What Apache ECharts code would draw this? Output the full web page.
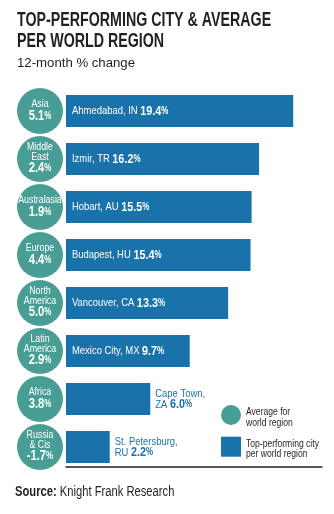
<!DOCTYPE html>
<html>
<head>
<meta charset="utf-8">
<script src="https://cdn.jsdelivr.net/npm/echarts@6/dist/echarts.min.js"></script>
<style>
  html, body { margin: 0; padding: 0; background: #fff; }
  #chart { width: 334px; height: 514px; }
</style>
</head>
<body>
<div id="chart"></div>
<script>
// region averages (circles)
const regions = ['Asia', 'Middle\nEast', 'Australasia', 'Europe', 'North\nAmerica', 'Latin\nAmerica', 'Africa', 'Russia\n& Cis'];
const regionAvg = [5.1, 2.4, 1.9, 4.4, 5.0, 2.9, 3.8, -1.7];
// top-performing city per region (bars)
const cities = ['Ahmedabad, IN', 'Izmir, TR', 'Hobart, AU', 'Budapest, HU', 'Vancouver, CA', 'Mexico City, MX', 'Cape Town, ZA', 'St. Petersburg, RU'];
const cityGrowth = [19.4, 16.2, 15.5, 15.4, 13.3, 9.7, 6.0, 2.2];

const X_MIN = -1.9;
const X_MAX = 22.1;
const TEAL = '#489e95';
const BLUE = '#1973aa';
const INK = '#231f20';
// no condensed font installed: Liberation Sans squeezed with scaleX instead
const SANS = '"Liberation Sans", Arial, sans-serif';
const AVG_NAME = 'Average for\nworld region';
const CITY_NAME = 'Top-performing city\nper world region';

var chartDom = document.getElementById('chart');
var myChart = echarts.init(chartDom);

function renderCity(params, api) {
    const i = api.value(1);
    const v = api.value(0);
    const start = api.coord([X_MIN, i]);
    const end = api.coord([v, i]);
    const h = api.size([0, 1])[1] * 0.667;
    const inside = v >= 8;
    const name = cities[params.dataIndex];
    const col = inside ? '#fff' : BLUE;
    // short bars: label goes outside, split on two lines
    const txt = inside
        ? '{c|' + name + ' }{v|' + v.toFixed(1) + '}{p|%}'
        : '{c|' + name.replace(', ', ',}\n{c|') + ' }{v|' + v.toFixed(1) + '}{p|%}';
    return {
        type: 'group',
        children: [
            {
                type: 'rect',
                shape: { x: start[0], y: start[1] - h / 2, width: end[0] - start[0], height: h },
                style: { fill: BLUE }
            },
            {
                type: 'text',
                x: inside ? start[0] + 6 : end[0] + 5,
                y: start[1],
                scaleX: 0.8,
                style: {
                    text: txt,
                    align: 'left',
                    verticalAlign: 'middle',
                    rich: {
                        c: { fontFamily: SANS, fontSize: 11.8, fill: col, lineHeight: 11 },
                        v: { fontFamily: SANS, fontSize: 13.5, fontWeight: 'bold', fill: col, lineHeight: 11 },
                        p: { fontFamily: SANS, fontSize: 10, fontWeight: 'bold', fill: col, lineHeight: 11 }
                    }
                }
            }
        ]
    };
}

function renderRegion(params, api) {
    const i = api.value(1);
    const base = api.coord([X_MIN, i]);
    const cx = base[0] - 26;
    const txt = '{n|' + regions[params.dataIndex] + '}\n{v|' + api.value(0).toFixed(1) + '}{p|%}';
    return {
        type: 'group',
        children: [
            {
                type: 'circle',
                shape: { cx: cx, cy: base[1], r: 23 },
                style: { fill: TEAL }
            },
            {
                type: 'text',
                x: cx,
                y: base[1],
                scaleX: 0.8,
                style: {
                    text: txt,
                    align: 'center',
                    verticalAlign: 'middle',
                    rich: {
                        n: { fontFamily: SANS, fontSize: 11, fill: '#fff', lineHeight: 9.5 },
                        v: { fontFamily: SANS, fontSize: 14, fontWeight: 'bold', fill: '#fff', lineHeight: 14 },
                        p: { fontFamily: SANS, fontSize: 10, fontWeight: 'bold', fill: '#fff', lineHeight: 14 }
                    }
                }
            }
        ]
    };
}

var option = {
    animation: false,
    graphic: [
        {
            type: 'text',
            x: 17,
            y: 9.7,
            scaleX: 0.73,
            style: {
                text: 'TOP-PERFORMING CITY & AVERAGE\nPER WORLD REGION',
                fontFamily: SANS,
                fontWeight: 'bold',
                fontSize: 19.5,
                lineHeight: 21,
                fill: INK,
                verticalAlign: 'top'
            }
        },
        {
            type: 'text',
            x: 17,
            y: 63.7,
            style: {
                text: '12-month % change',
                fontFamily: SANS,
                fontSize: 13.2,
                fill: INK,
                verticalAlign: 'middle'
            }
        },
        {
            type: 'text',
            x: 246,
            y: 417,
            scaleX: 0.74,
            style: {
                text: AVG_NAME,
                fontFamily: SANS,
                fontSize: 11.6,
                lineHeight: 10.6,
                fill: INK,
                verticalAlign: 'middle'
            }
        },
        {
            type: 'text',
            x: 246,
            y: 448.3,
            scaleX: 0.74,
            style: {
                text: CITY_NAME,
                fontFamily: SANS,
                fontSize: 11.6,
                lineHeight: 10,
                fill: INK,
                verticalAlign: 'middle'
            }
        },
        {
            type: 'text',
            x: 15,
            y: 492,
            scaleX: 0.8,
            style: {
                text: '{b|Source:} Knight Frank Research',
                fontFamily: SANS,
                fontSize: 14,
                fill: INK,
                verticalAlign: 'middle',
                rich: {
                    b: { fontFamily: SANS, fontSize: 14, fontWeight: 'bold', fill: INK }
                }
            }
        }
    ],
    legend: {
        orient: 'vertical',
        left: 221,
        top: 405,
        padding: 0,
        itemWidth: 20,
        itemHeight: 20,
        itemGap: 11.7,
        selectedMode: false,
        formatter: function () { return ''; },
        data: [
            { name: AVG_NAME, icon: 'circle' },
            { name: CITY_NAME, icon: 'rect' }
        ],
        textStyle: { fontSize: 10, lineHeight: 10 }
    },
    grid: {
        left: 66,
        right: 12,
        top: 87,
        bottom: 43
    },
    xAxis: {
        type: 'value',
        min: X_MIN,
        max: X_MAX,
        offset: -4,
        axisLine: { show: true, lineStyle: { color: INK, width: 1.5 } },
        axisTick: { show: false },
        axisLabel: { show: false },
        splitLine: { show: false }
    },
    yAxis: {
        type: 'category',
        inverse: true,
        data: regions,
        show: false
    },
    series: [
        {
            name: CITY_NAME,
            type: 'custom',
            itemStyle: { color: BLUE },
            renderItem: renderCity,
            encode: { x: 0, y: 1 },
            data: cityGrowth.map(function (v, i) { return [v, i]; })
        },
        {
            name: AVG_NAME,
            type: 'custom',
            itemStyle: { color: TEAL },
            renderItem: renderRegion,
            encode: { x: 0, y: 1 },
            data: regionAvg.map(function (v, i) { return [v, i]; })
        }
    ]
};
myChart.setOption(option);
</script>
</body>
</html>
